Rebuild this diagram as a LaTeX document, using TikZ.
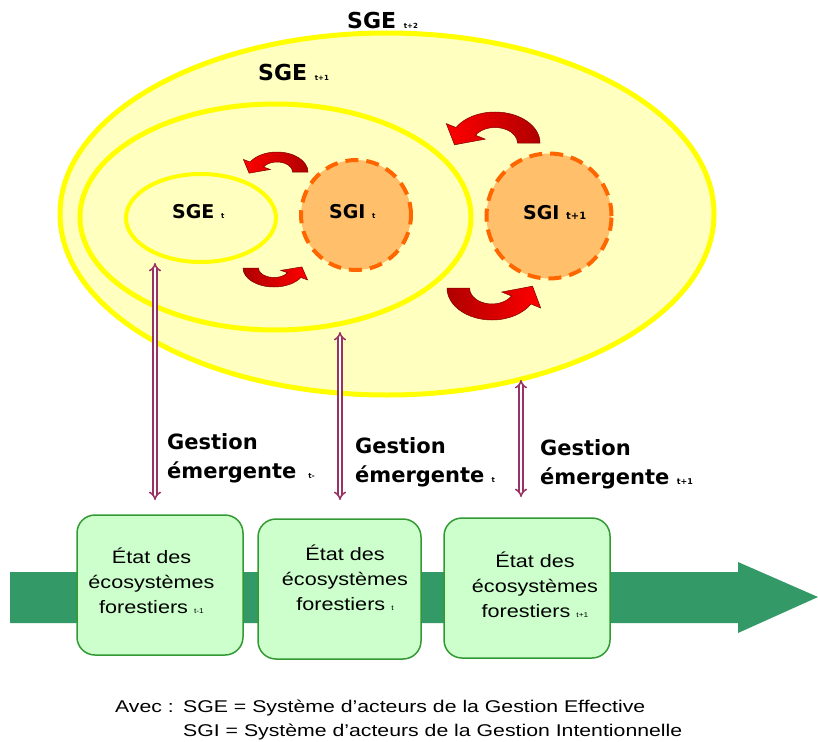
\documentclass[tikz,border=0pt]{standalone}
\usepackage{fontspec}
\setmainfont{Liberation Sans}
\newfontfamily\labfont{DejaVu Sans}
\newfontfamily\widefont{Liberation Sans}[FakeStretch=1.2]
\newfontfamily\notefont{Liberation Sans}[FakeStretch=1.25]
\usetikzlibrary{shapes.geometric,arrows.meta}
\definecolor{ellfill}{HTML}{FFFFC0}
\definecolor{ellline}{HTML}{FFFF00}
\definecolor{sgifill}{HTML}{FFBF6B}
\definecolor{sgiline}{HTML}{FF6600}
\definecolor{purp}{HTML}{993366}
\definecolor{greenarr}{HTML}{339966}
\definecolor{boxfill}{HTML}{CCFFCC}
\definecolor{boxline}{HTML}{339933}
\definecolor{redb}{HTML}{FF0000}
\definecolor{redd}{HTML}{B00000}
\newcommand\subsc[2]{{\fontsize{#1}{#1}\selectfont #2}}
\newcommand\redcurve[2]{%
  \begin{scope}[#1]
    \path[draw=redd!70!black, line width=0.5pt, #2]
      (1,0) arc[start angle=0, end angle=150, radius=1]
      -- (150:1.25) -- (-0.900,-0.058) -- (150:0.25) -- (150:0.5)
      arc[start angle=150, end angle=0, radius=0.5] -- cycle;
  \end{scope}}
\tikzset{
  ellbig/.style={ellipse, draw=ellline, fill=ellfill, inner sep=0pt},
  sgi/.style={circle, draw=sgiline, fill=sgifill, line width=4pt, dash pattern=on 13pt off 8pt, inner sep=0pt},
  lab/.style={inner sep=0pt, anchor=base west},
  big/.style={lab, font=\labfont\bfseries\fontsize{22}{26}\selectfont},
  mid/.style={lab, font=\labfont\bfseries\fontsize{19}{22}\selectfont},
  gest/.style={lab, font=\labfont\bfseries\fontsize{21}{25}\selectfont},
  ecobox/.style={draw=boxline, fill=boxfill, line width=1.5pt, rounded corners=18pt, minimum height=140pt, inner sep=0pt},
  ecotext/.style={inner sep=0pt, align=center, font=\widefont\fontsize{18}{25}\selectfont},
  note/.style={lab, font=\notefont\fontsize{17}{20}\selectfont},
  dbl/.style={draw=purp, double=white, double distance=2.4pt, line width=1.6pt, {Implies[scale=1.3]}-{Implies[scale=1.3]}}
}
\begin{document}
\begin{tikzpicture}[x=1pt, y=-1pt]
\useasboundingbox (0,0) rectangle (818,741);
% ellipses
\node[ellbig, line width=5pt, minimum width=654pt, minimum height=362pt] (sge2) at (387,214) {};
\node[ellbig, line width=5pt, minimum width=391pt, minimum height=226pt] (sge1) at (275.5,217) {};
\node[ellbig, line width=4pt, minimum width=150pt, minimum height=88pt] (sge0) at (201,218) {};
\node[sgi, minimum size=110pt] (sgi0) at (356,215) {};
\node[sgi, minimum size=125pt] (sgi1) at (549,216) {};
% labels
\node[big] (lsge2) at (347,29) {SGE \subsc{7}{t+2}};
\node[big] (lsge1) at (258,81) {SGE \subsc{7}{t+1}};
\node[mid] (lsge0) at (172,218) {SGE \subsc{7}{t}};
\node[mid] (lsgi0) at (329,218) {SGI \subsc{7}{t}};
\node[mid] (lsgi1) at (523,219) {SGI \subsc{10}{t+1}};
% curved arrows
\redcurve{shift={(277,172)}, xscale=31, yscale=-20}{left color=redb, middle color=redb, right color=redd}
\redcurve{shift={(274,268)}, xscale=-31, yscale=19}{left color=redd, middle color=redb, right color=redb}
\redcurve{shift={(495,143)}, xscale=45, yscale=-31}{left color=redb, middle color=redb, right color=redd}
\redcurve{shift={(492,288)}, xscale=-45, yscale=32}{left color=redd, middle color=redb, right color=redb}
% green arrow
\fill[greenarr] (10,572) -- (738,572) -- (738,562) -- (818,597) -- (738,633) -- (738,623) -- (10,623) -- cycle;
% boxes
\node[ecobox, minimum width=166pt] (b1) at (160,585) {};
\node[ecobox, minimum width=163pt] (b2) at (339.5,589) {};
\node[ecobox, minimum width=166pt] (b3) at (527,588) {};
\node[ecotext] (t1) at (151.5,580.5) {État des\\écosystèmes\\forestiers \subsc{7}{t-1}};
\node[ecotext] (t2) at (345,578) {État des\\écosystèmes\\forestiers \subsc{7}{t}};
\node[ecotext] (t3) at (535,584.5) {État des\\écosystèmes\\forestiers \subsc{7}{t+1}};
% purple arrows
\coordinate (a1t) at (155,263); \coordinate (a1b) at (155,500);
\coordinate (a2t) at (340,332); \coordinate (a2b) at (340,500);
\coordinate (a3t) at (521,380); \coordinate (a3b) at (521,497);
\draw[dbl] (a1t) -- (a1b);
\draw[dbl] (a2t) -- (a2b);
\draw[dbl] (a3t) -- (a3b);
% gestion labels
\node[gest] (g1a) at (167,449) {Gestion};
\node[gest] (g1b) at (167,478) {émergente\hskip 12pt\subsc{7}{t-}};
\node[gest] (g2a) at (355,453) {Gestion};
\node[gest] (g2b) at (355,482) {émergente \subsc{7}{t}};
\node[gest] (g3a) at (540,455) {Gestion};
\node[gest] (g3b) at (540,484) {émergente \subsc{8}{t+1}};
% note
\node[note] (n0) at (115,712) {Avec :};
\node[note] (n1) at (183,712) {SGE = Système d’acteurs de la Gestion Effective};
\node[note] (n2) at (183,736) {SGI = Système d’acteurs de la Gestion Intentionnelle};
\end{tikzpicture}
\end{document}
